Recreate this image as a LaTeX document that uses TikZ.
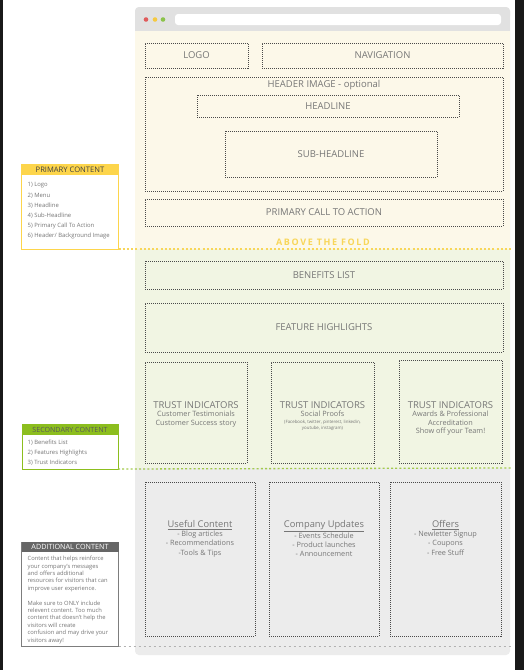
\documentclass[tikz,border=0pt]{standalone}
\usepackage{fontspec}
\setmainfont{Open Sans}
\definecolor{barGray}{HTML}{E1E1E1}
\definecolor{cream}{HTML}{FCF8E9}
\definecolor{mint}{HTML}{F1F5E3}
\definecolor{paneGray}{HTML}{ECECEC}
\definecolor{wireLine}{HTML}{4A4A4A}
\definecolor{labelGray}{HTML}{767676}
\definecolor{foldYellow}{HTML}{F8D65A}
\definecolor{headYellow}{HTML}{FDD54B}
\definecolor{leafGreen}{HTML}{8CBE1E}
\definecolor{slate}{HTML}{666666}
\definecolor{dotRed}{HTML}{E05C5C}
\definecolor{dotYellow}{HTML}{F5C940}
\definecolor{dotGreen}{HTML}{8CC34B}
\begin{document}
\begin{tikzpicture}[x=1pt,y=-1pt,
  wire/.style={draw=wireLine, line width=0.7pt, dash pattern=on 1pt off 1pt,
    inner sep=0pt, outer sep=0pt, anchor=north west, text=labelGray,
    font=\fontsize{9.5}{11}\selectfont},
  caption/.style={inner sep=0pt, text=labelGray, align=center},
  panelhead/.style={inner sep=0pt, outer sep=0pt, anchor=north west, minimum height=11pt},
  panelbody/.style={inner sep=0pt, outer sep=0pt, anchor=north west, fill=white, line width=0.8pt},
  paneltext/.style={inner sep=0pt, anchor=north west, align=left, text=labelGray},
  fold/.style={line width=1.3pt, dash pattern=on 2pt off 2.2pt}]
\useasboundingbox (0,0) rectangle (524,670);
\fill[white] (0,0) rectangle (524,670);
% side strips
\fill[black!90] (0,0) rectangle (3,670);
\fill[black!90] (515,0) rectangle (524,670);

% browser window
\fill[paneGray, rounded corners=4pt] (135,7) rectangle (510,655);
\fill[barGray, rounded corners=4pt] (135,7) rectangle (510,20);
\fill[barGray] (135,15) rectangle (510,31);
\fill[cream] (135,31) rectangle (510,249);
\fill[mint] (135,249) rectangle (510,468);
\fill[white, rounded corners=3pt] (175,14) rectangle (501,25);
\fill[dotRed] (146,19.5) circle (2.3);
\fill[dotYellow] (155,19.5) circle (2.3);
\fill[dotGreen] (163,19.5) circle (2.3);

% above the fold
\node[wire, minimum width=103pt, minimum height=25pt] (logo) at (145,43) {LOGO};
\node[wire, minimum width=241pt, minimum height=25pt] (nav) at (262,43) {NAVIGATION};
\node[wire, minimum width=358pt, minimum height=114pt] (hero) at (145,77) {};
\node[caption, font=\fontsize{9.5}{11}\selectfont] (herolbl) at (324,85.5) {HEADER IMAGE - optional};
\node[wire, minimum width=262pt, minimum height=22pt] (headline) at (197,95) {HEADLINE};
\node[wire, minimum width=212pt, minimum height=46pt] (subhead) at (225,131) {SUB-HEADLINE};
\node[wire, minimum width=358pt, minimum height=27pt] (cta) at (145,199) {PRIMARY CALL TO ACTION};
\node[inner sep=0pt, text=foldYellow, font=\fontsize{9}{10}\bfseries\addfontfeature{LetterSpace=18}] (foldlbl) at (323,242) {ABOVE THE FOLD};

% secondary content
\node[wire, minimum width=358pt, minimum height=28pt] (benefits) at (145,261) {BENEFITS LIST};
\node[wire, minimum width=358pt, minimum height=49pt] (features) at (145,303) {FEATURE HIGHLIGHTS};
\node[wire, minimum width=102pt, minimum height=101pt] (trustA) at (145,362) {};
\node[wire, minimum width=103pt, minimum height=101pt] (trustB) at (271,362) {};
\node[wire, minimum width=103pt, minimum height=103pt] (trustC) at (399,360) {};
\node[caption, anchor=north, font=\fontsize{7.3}{8.6}\selectfont] (trustAtxt) at (trustA.north |- 0,401)
  {{\fontsize{9.5}{10}\selectfont TRUST INDICATORS}\\Customer Testimonials\\Customer Success story};
\node[caption, anchor=north, font=\fontsize{7.3}{8.6}\selectfont] (trustBtxt) at (trustB.north |- 0,401)
  {{\fontsize{9.5}{10}\selectfont TRUST INDICATORS}\\Social Proofs\\[-1.5pt]
   {\fontsize{4.4}{5.6}\selectfont (Facebook, twitter, pinterest, linkedin,}\\[-2.6pt]
   {\fontsize{4.4}{5.6}\selectfont youtube, instagram)}};
\node[caption, anchor=north, font=\fontsize{7.3}{8.6}\selectfont] (trustCtxt) at (trustC.north |- 0,401)
  {{\fontsize{9.5}{10}\selectfont TRUST INDICATORS}\\Awards \& Professional\\Accreditation\\Show off your Team!};

% additional content
\node[wire, minimum width=110pt, minimum height=154pt] (useful) at (145,482) {};
\node[wire, minimum width=110pt, minimum height=154pt] (company) at (269,482) {};
\node[wire, minimum width=111pt, minimum height=154pt] (offers) at (390,482) {};
\node[caption, anchor=north, font=\fontsize{7.3}{9.3}\selectfont] (usefultxt) at (useful.north |- 0,520)
  {{\fontsize{9.3}{10}\selectfont\underline{Useful Content}}\\- Blog articles\\- Recommendations\\-Tools \& Tips};
\node[caption, anchor=north, font=\fontsize{7.3}{9.3}\selectfont] (companytxt) at (company.north |- 0,520)
  {{\fontsize{9.3}{10}\selectfont\underline{Company Updates}}\\- Events Schedule\\- Product launches\\- Announcement};
\node[caption, anchor=north, font=\fontsize{7.3}{9.3}\selectfont] (offerstxt) at (offers.north |- 0,520)
  {{\fontsize{9.3}{10}\selectfont\underline{Offers}}\\- Newletter Signup\\- Coupons\\- Free Stuff};

% side panels
\node[panelbody, draw=headYellow, minimum width=97pt, minimum height=85pt] (primary) at (21.5,164) {};
\node[panelhead, fill=headYellow, minimum width=97pt, text=black!75,
  font=\fontsize{7.6}{8}\selectfont] (primaryhd) at (21.5,164) {PRIMARY CONTENT};
\node[paneltext, font=\fontsize{5.9}{10.2}\selectfont] (primarytxt) at (27.5,182.5)
  {1) Logo\\2) Menu\\3) Headline\\4) Sub-Headline\\5) Primary Call To Action\\6) Header/ Background Image};

\node[panelbody, draw=leafGreen, minimum width=96pt, minimum height=45pt] (secondary) at (22,424) {};
\node[panelhead, fill=leafGreen, minimum width=96pt, text=black!65,
  font=\fontsize{7.1}{8}\selectfont] (secondaryhd) at (22,424) {SECONDARY CONTENT};
\node[paneltext, font=\fontsize{5.9}{10.2}\selectfont] (secondarytxt) at (27.5,439.5)
  {1) Benefits List\\2) Features Highlights\\3) Trust Indicators};

\node[panelbody, draw=slate!85, minimum width=97pt, minimum height=104pt] (additional) at (21.5,542) {};
\node[panelhead, fill=slate, minimum width=97pt, minimum height=10pt, text=white,
  font=\fontsize{7.2}{8}\selectfont] (additionalhd) at (21.5,542) {ADDITIONAL CONTENT};
\node[paneltext, font=\fontsize{5.8}{7.4}\selectfont] (additionaltxt) at (27.5,556)
  {Content that helps reinforce\\your company's messages\\and offers additional\\resources for visitors that can\\improve user experience.\\[7.4pt]
   Make sure to ONLY include\\relevent content. Too much\\content that doesn't help the\\visitors will create\\confusion and may drive your\\visitors away!};

% fold lines from each panel across the page
\coordinate (foldA) at (512,249);
\coordinate (foldB) at (512,468);
\coordinate (foldC) at (512,646);
\draw[fold, foldYellow] (primary.south east) -- (foldA);
\draw[fold, leafGreen!80] (secondary.south east) -- (foldB);
\draw[fold, black!30, line width=1pt, dash pattern=on 2.5pt off 2.5pt] (additional.south east) -- (foldC);
\end{tikzpicture}
\end{document}
